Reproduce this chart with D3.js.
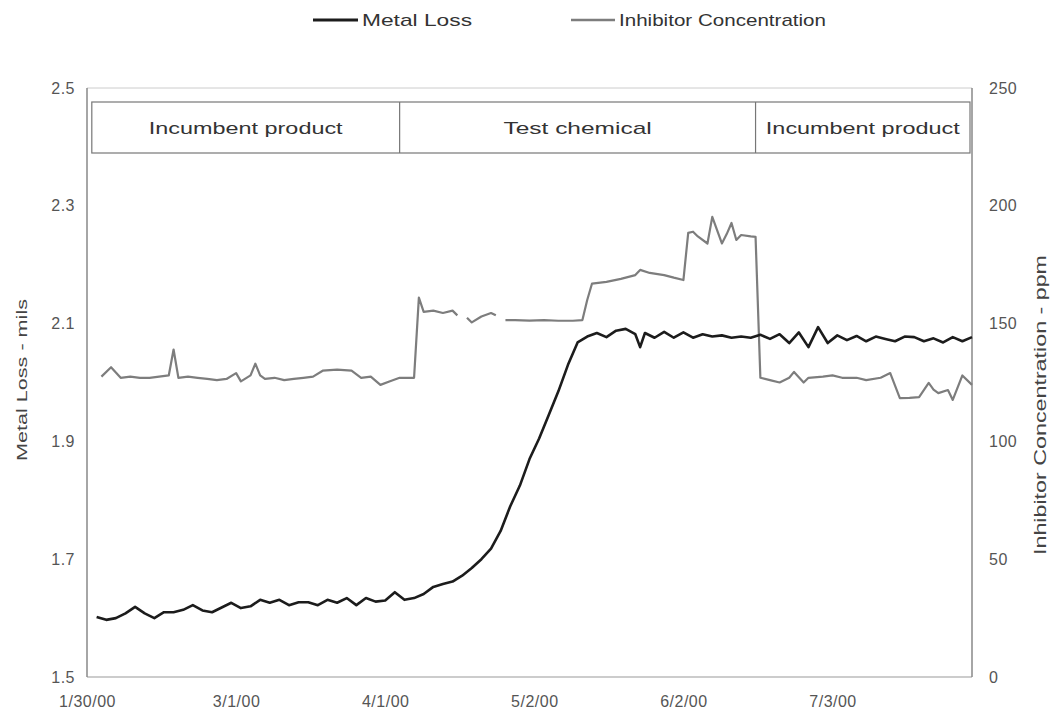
<!DOCTYPE html>
<html>
<head>
<meta charset="utf-8">
<title>Metal Loss vs Inhibitor Concentration</title>
<style>
body { margin: 0; background: #fff; }
text { font-family: Arial, "Liberation Sans", sans-serif; fill: #444; }
.tick text { font-size: 16px; fill: #555; }
.line { fill: none; stroke-linejoin: round; }
</style>
</head>
<body>
<script src="https://cdnjs.cloudflare.com/ajax/libs/d3/7.8.5/d3.min.js"></script>
<script>

// ---- data ----
var metalDates = ["2/1/00","2/3/00","2/5/00","2/7/00","2/9/00","2/11/00","2/13/00","2/15/00","2/17/00","2/19/00",
  "2/21/00","2/23/00","2/25/00","2/27/00","2/29/00","3/2/00","3/4/00","3/6/00","3/8/00","3/10/00",
  "3/12/00","3/14/00","3/16/00","3/18/00","3/20/00","3/22/00","3/24/00","3/26/00","3/28/00","3/30/00",
  "4/1/00","4/3/00","4/5/00","4/7/00","4/9/00","4/11/00","4/13/00","4/15/00","4/17/00","4/19/00",
  "4/21/00","4/23/00","4/25/00","4/27/00","4/29/00","5/1/00","5/3/00","5/5/00","5/7/00","5/9/00",
  "5/11/00","5/13/00","5/15/00","5/17/00","5/19/00","5/21/00","5/23/00","5/24/00","5/25/00","5/27/00",
  "5/29/00","5/31/00","6/2/00","6/4/00","6/6/00","6/8/00","6/10/00","6/12/00","6/14/00","6/16/00",
  "6/18/00","6/20/00","6/22/00","6/24/00","6/26/00","6/28/00","6/30/00","7/2/00","7/4/00","7/6/00",
  "7/8/00","7/10/00","7/12/00","7/14/00","7/16/00","7/18/00","7/20/00","7/22/00","7/24/00","7/26/00",
  "7/28/00","7/30/00","8/1/00"];
var metalLoss = [1.602,1.597,1.600,1.608,1.619,1.608,1.600,1.610,1.610,1.614,
  1.622,1.613,1.610,1.618,1.626,1.617,1.620,1.631,1.626,1.631,
  1.622,1.627,1.627,1.622,1.631,1.626,1.634,1.622,1.634,1.628,
  1.630,1.644,1.631,1.634,1.641,1.653,1.658,1.662,1.672,1.685,
  1.700,1.718,1.748,1.790,1.825,1.870,1.905,1.945,1.985,2.030,
  2.068,2.078,2.084,2.077,2.088,2.091,2.082,2.060,2.084,2.076,
  2.086,2.076,2.085,2.076,2.082,2.078,2.080,2.076,2.078,2.076,
  2.081,2.074,2.082,2.067,2.085,2.060,2.094,2.067,2.080,2.072,
  2.079,2.070,2.078,2.074,2.070,2.078,2.077,2.070,2.075,2.068,
  2.077,2.070,2.077];

var inhibDates = ["2/2/00","2/4/00","2/6/00","2/8/00","2/10/00","2/12/00","2/14/00","2/16/00","2/17/00","2/18/00",
  "2/20/00","2/22/00","2/24/00","2/26/00","2/28/00","3/1/00","3/2/00","3/4/00","3/5/00","3/6/00",
  "3/7/00","3/9/00","3/11/00","3/13/00","3/15/00","3/17/00","3/19/00","3/22/00","3/25/00","3/27/00",
  "3/29/00","3/31/00","4/2/00","4/4/00","4/7/00","4/8/00","4/9/00","4/11/00","4/13/00","4/15/00",
  "4/16/00","4/17/00","4/18/00","4/19/00","4/21/00","4/23/00","4/24/00","4/25/00","4/26/00","4/28/00",
  "5/1/00","5/4/00","5/7/00","5/10/00","5/12/00","5/13/00","5/14/00","5/17/00","5/20/00","5/23/00",
  "5/24/00","5/26/00","5/29/00","5/31/00","6/2/00","6/3/00","6/4/00","6/5/00","6/7/00","6/8/00",
  "6/10/00","6/11/00","6/12/00","6/13/00","6/14/00","6/16/00","6/17/00","6/18/00","6/20/00","6/22/00",
  "6/24/00","6/25/00","6/27/00","6/28/00","7/1/00","7/3/00","7/5/00","7/8/00","7/10/00","7/13/00",
  "7/15/00","7/17/00","7/19/00","7/21/00","7/23/00","7/24/00","7/25/00","7/27/00","7/28/00","7/30/00",
  "8/1/00"];
var inhibConc = [127.5,131.5,127,127.5,127,127,127.5,128,139,127,
  127.5,127,126.5,126,126.5,129,125.5,128,133,128,
  126.5,127,126,126.5,127,127.5,130,130.5,130,127,
  127.5,124,125.5,127,127,161,155,155.5,154.5,155.5,
  153.5,null,152.5,150.5,153,154.5,153.5,null,151.5,151.5,
  151.3,151.5,151.2,151.2,151.5,160,167,167.7,169,170.6,
  172.8,171.5,170.6,169.5,168.5,188.5,189,187,184,195.3,
  184,188,192.7,185.5,187.6,187,186.8,127,126,125,
  127,129.5,125,127,127.5,128,127,127,126,127,
  129,118.4,118.5,118.8,124.8,122,120.5,121.8,117.6,128,
  124];

var phaseLabels = ["Incumbent product", "Test chemical", "Incumbent product"];
var phaseBreaks = ["1/31/00", "4/4/00", "6/17/00", "8/1/00"];

var dateTicks = ["1/30/00","3/1/00","4/1/00","5/2/00","6/2/00","7/3/00"];
var leftTicks = [1.5, 1.7, 1.9, 2.1, 2.3, 2.5];
var rightTicks = [0, 50, 100, 150, 200, 250];

// ---- layout ----
var W = 1053, H = 721;
var plot = {left: 87, right: 972, top: 88, bottom: 677};

var parse = d3.timeParse("%m/%d/%y");
var fmt = d3.timeFormat("%-m/%-d/%y");

var svg = d3.select("body").append("svg")
    .attr("width", W)
    .attr("height", H);

var x = d3.scaleTime()
    .domain([parse("1/30/00"), parse("8/1/00")])
    .range([plot.left, plot.right]);

var yL = d3.scaleLinear().domain([1.5, 2.5]).range([plot.bottom, plot.top]);
var yR = d3.scaleLinear().domain([0, 250]).range([plot.bottom, plot.top]);

// frame
svg.append("line")
    .attr("x1", plot.left).attr("x2", plot.right)
    .attr("y1", plot.top).attr("y2", plot.top)
    .style("stroke", "#ccc").style("stroke-width", 1);
svg.append("line")
    .attr("x1", plot.left).attr("x2", plot.right)
    .attr("y1", plot.bottom).attr("y2", plot.bottom)
    .style("stroke", "#999").style("stroke-width", 1.2);
svg.append("line")
    .attr("x1", plot.left).attr("x2", plot.left)
    .attr("y1", plot.top).attr("y2", plot.bottom)
    .style("stroke", "#888").style("stroke-width", 1.5);
svg.append("line")
    .attr("x1", plot.right).attr("x2", plot.right)
    .attr("y1", plot.top).attr("y2", plot.bottom)
    .style("stroke", "#888").style("stroke-width", 1.5);

// axes
var gl = svg.append("g")
    .attr("transform", "translate(" + plot.left + ",0)")
    .call(d3.axisLeft(yL).tickValues(leftTicks).tickSize(0).tickPadding(12).tickFormat(d3.format(".1f")));
var gr = svg.append("g")
    .attr("transform", "translate(" + plot.right + ",0)")
    .call(d3.axisRight(yR).tickValues(rightTicks).tickSize(0).tickPadding(17));
var gb = svg.append("g")
    .attr("transform", "translate(0," + plot.bottom + ")")
    .call(d3.axisBottom(x).tickValues(dateTicks.map(parse)).tickSize(0).tickPadding(19).tickFormat(fmt));
[gl, gr, gb].forEach(function(g) {
  g.select(".domain").remove();
  g.selectAll(".tick text").style("font-family", "Arial, 'Liberation Sans', sans-serif").style("letter-spacing", "0.5px");
});

// axis titles
svg.append("text")
    .attr("transform", "translate(27,380) rotate(-90)")
    .style("text-anchor", "middle")
    .style("font-size", "15px")
    .attr("textLength", 162).attr("lengthAdjust", "spacingAndGlyphs")
    .text("Metal Loss - mils");
svg.append("text")
    .attr("transform", "translate(1046,405) rotate(-90)")
    .style("text-anchor", "middle")
    .style("font-size", "16px")
    .attr("textLength", 300).attr("lengthAdjust", "spacingAndGlyphs")
    .text("Inhibitor Concentration - ppm");

// phase boxes
var bx = phaseBreaks.map(function(d) { return x(parse(d)); });
bx[bx.length - 1] -= 2;
var boxTop = 102, boxBot = 153;
svg.append("rect")
    .attr("x", bx[0]).attr("y", boxTop)
    .attr("width", bx[bx.length - 1] - bx[0]).attr("height", boxBot - boxTop)
    .style("fill", "#fff").style("stroke", "#777").style("stroke-width", 1.2);
phaseLabels.forEach(function(lbl, i) {
  if (i > 0) {
    svg.append("line")
        .attr("x1", bx[i]).attr("x2", bx[i])
        .attr("y1", boxTop).attr("y2", boxBot)
        .style("stroke", "#777").style("stroke-width", 1.2);
  }
  var t = svg.append("text")
      .attr("x", (bx[i] + bx[i + 1]) / 2)
      .attr("y", 134)
      .style("text-anchor", "middle")
      .style("font-size", "17px")
      .style("fill", "#333")
      .text(lbl);
  t.attr("textLength", lbl.length * 11.4).attr("lengthAdjust", "spacingAndGlyphs");
});

// lines
var metal = metalDates.map(function(d, i) { return {date: parse(d), v: metalLoss[i]}; });
var inhib = inhibDates.map(function(d, i) { return {date: parse(d), v: inhibConc[i]}; });

var lineL = d3.line()
    .x(function(d) { return x(d.date); })
    .y(function(d) { return yL(d.v); });
var lineR = d3.line()
    .defined(function(d) { return d.v != null; })
    .x(function(d) { return x(d.date); })
    .y(function(d) { return yR(d.v); });

svg.append("path")
    .datum(inhib)
    .attr("class", "line")
    .attr("d", lineR)
    .style("stroke", "#7d7d7d")
    .style("stroke-width", 2.2);

svg.append("path")
    .datum(metal)
    .attr("class", "line")
    .attr("d", lineL)
    .style("stroke", "#1c1c1c")
    .style("stroke-width", 2.6);

// legend
var legend = svg.append("g");
legend.append("line")
    .attr("x1", 313).attr("x2", 358).attr("y1", 20).attr("y2", 20)
    .style("stroke", "#1c1c1c").style("stroke-width", 3);
legend.append("text")
    .attr("x", 362).attr("y", 26)
    .style("font-size", "17px").style("fill", "#333")
    .attr("textLength", 110).attr("lengthAdjust", "spacingAndGlyphs")
    .text("Metal Loss");
legend.append("line")
    .attr("x1", 571).attr("x2", 615).attr("y1", 20).attr("y2", 20)
    .style("stroke", "#7d7d7d").style("stroke-width", 2.5);
legend.append("text")
    .attr("x", 619).attr("y", 26)
    .style("font-size", "17px").style("fill", "#333")
    .attr("textLength", 207).attr("lengthAdjust", "spacingAndGlyphs")
    .text("Inhibitor Concentration");

</script>
</body>
</html>
